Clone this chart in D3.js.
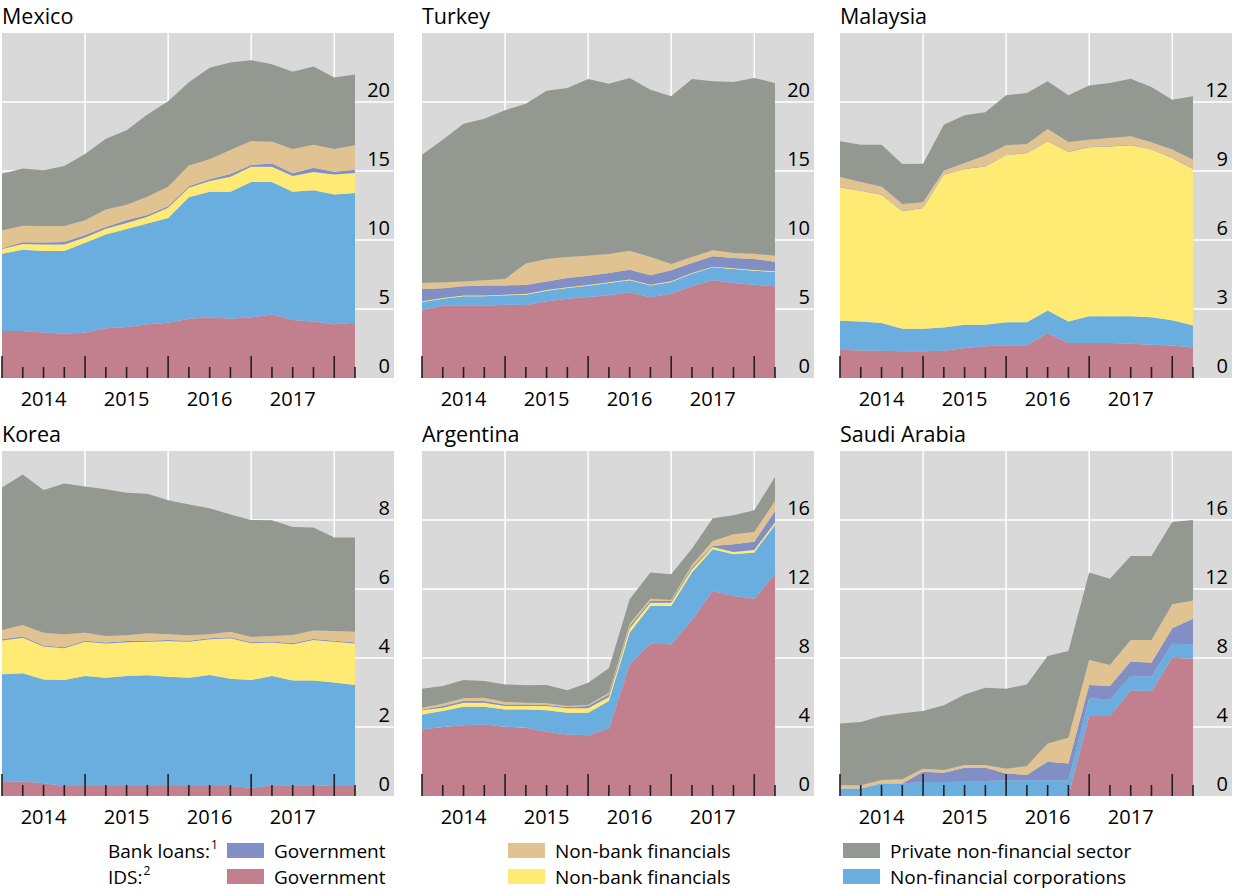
<!DOCTYPE html>
<html>
<head>
<meta charset="utf-8">
<script src="https://cdn.jsdelivr.net/npm/d3@7"></script>
<style>
  body { margin: 0; background: #fff; }
  svg { display: block; }
  text { font-family: "Open Sans", sans-serif; fill: #000; }
</style>
</head>
<body>
<svg id="chart" width="1235" height="891"></svg>
<script>

// quarters, end-2013 to Q1 2018
var quarters = ['2013Q4','2014Q1','2014Q2','2014Q3','2014Q4','2015Q1','2015Q2','2015Q3','2015Q4',
                '2016Q1','2016Q2','2016Q3','2016Q4','2017Q1','2017Q2','2017Q3','2017Q4','2018Q1'];
var yearLabels = ['2014','2015','2016','2017'];

// Mexico
var mexIdsGov  = [3.4,3.4,3.3,3.2,3.3,3.6,3.7,3.9,4.0,4.3,4.4,4.3,4.4,4.6,4.2,4.1,3.9,4.0];
var mexIdsNfc  = [5.6,5.9,5.9,6.0,6.5,6.8,7.1,7.3,7.6,8.8,9.1,9.2,9.8,9.6,9.3,9.5,9.4,9.4];
var mexIdsNbfi = [0.34,0.41,0.48,0.48,0.39,0.41,0.43,0.48,0.73,0.68,0.77,1.08,1.11,1.11,1.13,1.33,1.45,1.45];
var mexBlGov   = [0.07,0.12,0.13,0.17,0.17,0.14,0.2,0.13,0.12,0.12,0.14,0.2,0.12,0.24,0.2,0.31,0.2,0.24];
var mexBlNbfi  = [1.28,1.21,1.2,1.16,1.08,1.26,1.13,1.32,1.4,1.5,1.45,1.74,1.74,1.57,1.76,1.67,1.64,1.77];
var mexBlPriv  = [4.11,4.15,4.04,4.35,4.79,5.12,5.39,5.97,6.21,6.04,6.62,6.35,5.85,5.61,5.6,5.67,5.19,5.14];

// Turkey
var turIdsGov  = [4.95,5.24,5.24,5.24,5.31,5.29,5.56,5.75,5.87,5.99,6.21,5.85,6.11,6.64,7.08,6.88,6.76,6.64];
var turIdsNfc  = [0.56,0.51,0.68,0.68,0.68,0.75,0.77,0.77,0.82,0.89,0.87,0.86,0.85,0.92,0.94,1.02,1.02,1.04];
var turIdsNbfi = [0.05,0.05,0.05,0.05,0.05,0.05,0.05,0.05,0.05,0.05,0.05,0.05,0.05,0.05,0.05,0.05,0.05,0.05];
var turBlGov   = [0.89,0.7,0.67,0.74,0.67,0.65,0.62,0.68,0.67,0.68,0.72,0.68,0.79,0.72,0.75,0.75,0.79,0.7];
var turBlNbfi  = [0.43,0.43,0.36,0.37,0.46,1.55,1.62,1.52,1.45,1.38,1.38,1.33,0.46,0.44,0.43,0.36,0.39,0.43];
var turBlPriv  = [9.3,10.34,11.43,11.71,12.23,11.59,12.2,12.24,12.81,12.34,12.51,12.12,12.15,12.9,12.25,12.39,12.73,12.52];

// Malaysia
var malIdsGov  = [1.23,1.2,1.19,1.16,1.16,1.19,1.3,1.38,1.42,1.42,1.96,1.52,1.52,1.52,1.49,1.45,1.41,1.33];
var malIdsNfc  = [1.26,1.26,1.2,0.98,0.98,1.01,1.02,0.94,1.0,1.0,0.97,0.94,1.16,1.16,1.19,1.19,1.1,0.95];
var malIdsNbfi = [5.8,5.68,5.58,5.11,5.25,6.64,6.77,6.88,7.26,7.36,7.36,7.37,7.35,7.39,7.44,7.29,7.06,6.81];
var malBlGov   = [0.02,0.02,0.02,0.02,0.02,0.02,0.02,0.02,0.02,0.02,0.02,0.02,0.02,0.02,0.02,0.02,0.02,0.02];
var malBlNbfi  = [0.43,0.36,0.34,0.3,0.23,0.15,0.24,0.45,0.42,0.37,0.52,0.41,0.31,0.34,0.37,0.3,0.34,0.38];
var malBlPriv  = [1.55,1.62,1.81,1.73,1.68,2.0,2.07,1.88,2.17,2.22,2.07,2.03,2.36,2.4,2.5,2.4,2.17,2.76];

// Korea
var korIdsGov  = [0.43,0.42,0.37,0.29,0.29,0.29,0.29,0.29,0.29,0.29,0.29,0.29,0.24,0.31,0.31,0.31,0.29,0.29];
var korIdsNfc  = [3.1,3.14,3.01,3.07,3.19,3.14,3.19,3.21,3.17,3.14,3.22,3.11,3.12,3.17,3.04,3.04,3.0,2.93];
var korIdsNbfi = [0.98,1.03,0.95,0.92,0.99,0.99,0.98,0.97,1.03,1.04,1.03,1.17,1.07,0.97,1.05,1.17,1.18,1.2];
var korBlGov   = [0.03,0.03,0.03,0.03,0.03,0.03,0.03,0.03,0.03,0.03,0.03,0.03,0.03,0.03,0.03,0.03,0.03,0.03];
var korBlNbfi  = [0.27,0.34,0.37,0.38,0.23,0.19,0.17,0.22,0.17,0.16,0.12,0.16,0.15,0.16,0.24,0.25,0.28,0.31];
var korBlPriv  = [4.13,4.36,4.14,4.37,4.24,4.25,4.13,4.04,3.88,3.79,3.65,3.4,3.39,3.35,3.13,2.98,2.71,2.73];

// Argentina
var argIdsGov  = [3.86,4.0,4.1,4.15,4.02,3.96,3.73,3.57,3.52,3.92,7.63,8.83,8.79,10.2,11.88,11.59,11.44,12.85];
var argIdsNfc  = [0.87,0.93,1.08,1.03,1.0,1.06,1.24,1.26,1.31,1.59,1.84,2.18,2.22,2.75,2.42,2.42,2.67,2.86];
var argIdsNbfi = [0.24,0.19,0.23,0.23,0.2,0.2,0.25,0.25,0.25,0.23,0.25,0.2,0.2,0.19,0.13,0.14,0.15,0.14];
var argBlGov   = [0.05,0.1,0.1,0.1,0.09,0.09,0.06,0.08,0.14,0.15,0.14,0.09,0.09,0.1,0.06,0.44,0.48,0.67];
var argBlNbfi  = [0.1,0.13,0.15,0.19,0.14,0.1,0.09,0.06,0.06,0.1,0.13,0.14,0.06,0.15,0.29,0.58,0.56,0.58];
var argBlPriv  = [1.1,1.03,1.06,0.97,1.02,1.01,1.07,0.91,1.29,1.41,1.41,1.51,1.49,0.95,1.32,1.1,1.26,1.39];

// Saudi Arabia
var sauIdsGov  = [0,0,0,0,0,0,0,0,0,0,0,0,4.64,4.64,6.13,6.09,8.02,7.96];
var sauIdsNfc  = [0.43,0.43,0.73,0.73,0.81,0.81,0.83,0.87,0.91,0.91,0.91,0.91,1.02,0.96,0.83,0.83,0.81,0.83];
var sauIdsNbfi = [0,0,0,0,0,0,0,0,0,0,0,0,0,0,0,0,0,0];
var sauBlGov   = [0,0,0,0,0.6,0.54,0.81,0.77,0.4,0.31,1.08,0.98,0.77,0.78,0.83,0.81,0.89,1.49];
var sauBlNbfi  = [0.19,0.19,0.2,0.24,0.17,0.16,0.16,0.16,0.27,0.52,1.06,1.49,1.45,1.21,1.25,1.31,1.39,1.06];
var sauBlPriv  = [3.59,3.67,3.71,3.82,3.35,3.75,4.09,4.48,4.64,4.73,5.07,5.03,5.07,5.01,4.87,4.87,4.77,4.66];

var keys = ['idsGov','idsNfc','idsNbfi','blGov','blNbfi','blPriv'];
var colors = {
  idsGov: '#c27f8e', idsNfc: '#6aaddf', idsNbfi: '#ffea74',
  blGov: '#828fc5', blNbfi: '#e1c391', blPriv: '#939891'
};

var panels = [
  {name:'Mexico',       max:25, step:5, s:[mexIdsGov,mexIdsNfc,mexIdsNbfi,mexBlGov,mexBlNbfi,mexBlPriv]},
  {name:'Turkey',       max:25, step:5, s:[turIdsGov,turIdsNfc,turIdsNbfi,turBlGov,turBlNbfi,turBlPriv]},
  {name:'Malaysia',     max:15, step:3, s:[malIdsGov,malIdsNfc,malIdsNbfi,malBlGov,malBlNbfi,malBlPriv]},
  {name:'Korea',        max:10, step:2, s:[korIdsGov,korIdsNfc,korIdsNbfi,korBlGov,korBlNbfi,korBlPriv]},
  {name:'Argentina',    max:20, step:4, s:[argIdsGov,argIdsNfc,argIdsNbfi,argBlGov,argBlNbfi,argBlPriv]},
  {name:'Saudi Arabia', max:20, step:4, s:[sauIdsGov,sauIdsNfc,sauIdsNbfi,sauBlGov,sauBlNbfi,sauBlPriv]}
];

var col_x = [2, 422, 840];
var row_top = [33, 451];
var panel_w = 392, panel_h = 345, data_w = 353;

var svg = d3.select('#chart');

panels.forEach(function(p, pi){
  var x0 = col_x[pi % 3];
  var top = row_top[Math.floor(pi / 3)];
  var bottom = top + panel_h;

  var x = d3.scaleLinear().domain([0, quarters.length - 1]).range([x0, x0 + data_w]);
  var y = d3.scaleLinear().domain([0, p.max]).range([bottom, top]);

  var rows = quarters.map(function(q, i){
    var r = {q: q, i: i};
    keys.forEach(function(k, ki){ r[k] = p.s[ki][i]; });
    return r;
  });
  var stacked = d3.stack().keys(keys)(rows);

  var g = svg.append('g');

  g.append('rect')
    .attr('x', x0).attr('y', top)
    .attr('width', panel_w).attr('height', panel_h)
    .attr('fill', '#d9d9d9');

  var yTicks = d3.range(0, p.max, p.step);

  g.selectAll('.hgrid')
    .data(yTicks.filter(function(v){ return v > 0; }))
    .enter().append('line')
    .attr('x1', x0).attr('x2', x0 + panel_w)
    .attr('y1', function(d){ return y(d); })
    .attr('y2', function(d){ return y(d); })
    .attr('stroke', '#fff').attr('stroke-width', 1.5);

  g.selectAll('.vgrid')
    .data([4, 8, 12, 16])
    .enter().append('line')
    .attr('x1', function(d){ return x(d); })
    .attr('x2', function(d){ return x(d); })
    .attr('y1', top).attr('y2', bottom)
    .attr('stroke', '#fff').attr('stroke-width', 1.5);

  var area = d3.area()
    .x(function(d){ return x(d.data.i); })
    .y0(function(d){ return y(d[0]); })
    .y1(function(d){ return y(d[1]); });

  g.selectAll('.layer')
    .data(stacked)
    .enter().append('path')
    .attr('d', area)
    .attr('fill', function(d){ return colors[d.key]; });

  // quarter ticks along the bottom
  g.selectAll('.qtick')
    .data(quarters)
    .enter().append('line')
    .attr('x1', function(d, i){ return x(i); })
    .attr('x2', function(d, i){ return x(i); })
    .attr('y1', bottom)
    .attr('y2', function(d, i){ return bottom - (i % 4 === 0 ? 22 : 11); })
    .attr('stroke', '#231f20').attr('stroke-width', 1.6);

  g.selectAll('.ylab')
    .data(yTicks)
    .enter().append('text')
    .attr('x', x0 + panel_w - 4)
    .attr('y', function(d){ return y(d) - 5; })
    .attr('text-anchor', 'end')
    .style('font-size', '20px')
    .text(function(d){ return d; });

  g.selectAll('.year')
    .data(yearLabels)
    .enter().append('text')
    .attr('x', function(d, i){ return x(2 + i * 4); })
    .attr('y', bottom + 28)
    .attr('text-anchor', 'middle')
    .style('font-size', '20px')
    .text(function(d){ return d; });

  g.append('text')
    .attr('x', x0)
    .attr('y', top - 9)
    .style('font-size', '21.5px')
    .text(p.name);
});

// legend
var legendRows = [
  {label: 'Bank loans:', sup: '1', items: [['blGov','Government'],['blNbfi','Non-bank financials'],['blPriv','Private non-financial sector']]},
  {label: 'IDS:', sup: '2', items: [['idsGov','Government'],['idsNbfi','Non-bank financials'],['idsNfc','Non-financial corporations']]}
];
var legend_x = [227, 508, 843];
var legend_y = [843, 869];

legendRows.forEach(function(r, ri){
  var ly = legend_y[ri];
  var lab = svg.append('text')
    .attr('x', 108).attr('y', ly + 15)
    .style('font-size', '19px');
  lab.append('tspan').text(r.label);
  lab.append('tspan').attr('dx', 1).attr('dy', -9).style('font-size', '12px').text(r.sup);

  r.items.forEach(function(it, ii){
    svg.append('rect')
      .attr('x', legend_x[ii]).attr('y', ly)
      .attr('width', 37).attr('height', 15)
      .attr('fill', colors[it[0]]);
    svg.append('text')
      .attr('x', legend_x[ii] + 47).attr('y', ly + 15)
      .style('font-size', '19px')
      .text(it[1]);
  });
});

</script>
</body>
</html>
